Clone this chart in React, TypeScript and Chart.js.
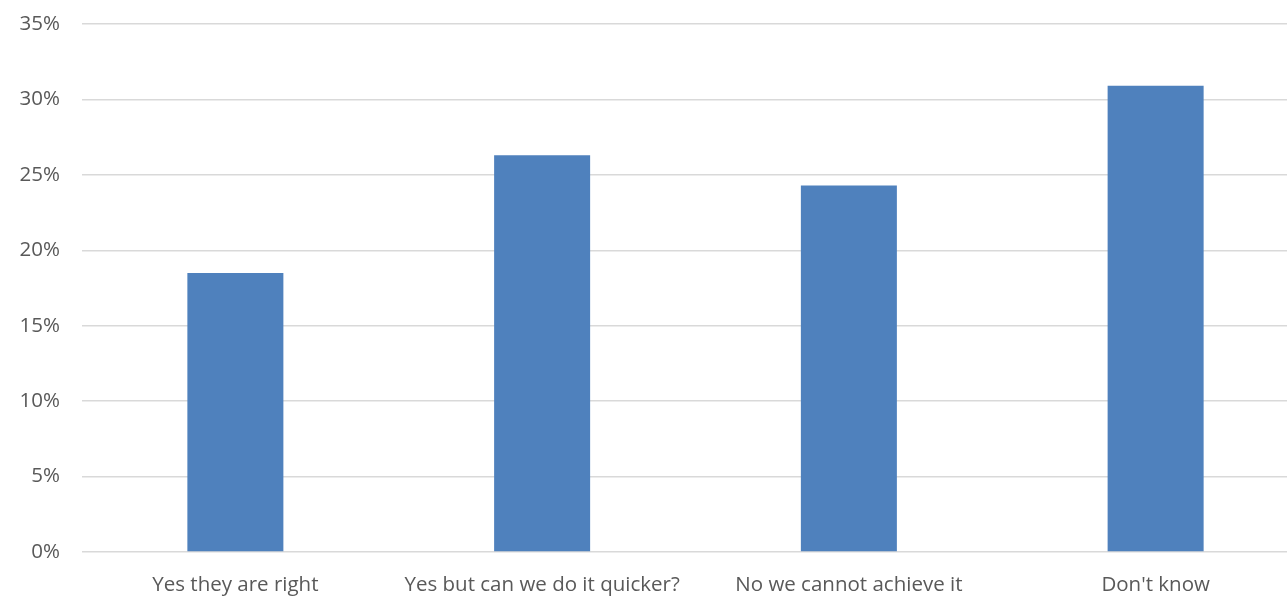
import React, { useEffect, useRef } from "react";
import { Chart, registerables } from "chart.js";

Chart.register(...registerables);

const categories = [
  "Yes they are right",
  "Yes but can we do it quicker?",
  "No we cannot achieve it",
  "Don't know",
];
const values = [18.5, 26.3, 24.3, 30.9];
const yTicks = [0, 5, 10, 15, 20, 25, 30, 35];

export default function App() {
  const ref = useRef<HTMLCanvasElement | null>(null);
  useEffect(() => {
    if (!ref.current) return;
    const font = { family: "'Open Sans', 'Noto Sans', sans-serif", size: 20.5 };
    const chart = new Chart(ref.current, {
      type: "bar",
      data: {
        labels: categories,
        datasets: [
          {
            data: values,
            backgroundColor: "#4f81bd",
            borderWidth: 0,
            barPercentage: 0.313,
            categoryPercentage: 1,
          },
        ],
      },
      options: {
        animation: false,
        responsive: true,
        maintainAspectRatio: false,
        layout: { padding: { top: 24, right: 1, left: 0, bottom: 0 } },
        plugins: { legend: { display: false }, tooltip: { enabled: false } },
        scales: {
          x: {
            grid: { display: false },
            border: { display: false },
            ticks: { color: "#595959", font, padding: 13, maxRotation: 0, autoSkip: false },
            afterFit: (s: any) => {
              s.height = 45;
              s.paddingLeft = 0;
              s.paddingRight = 0;
            },
          },
          y: {
            min: 0,
            max: 35,
            afterBuildTicks: (s: any) => {
              s.ticks = yTicks.map((v) => ({ value: v }));
            },
            grid: { color: "#d9d9d9", lineWidth: 1.5, drawTicks: false },
            border: { display: false },
            ticks: {
              color: "#595959",
              font,
              padding: 22,
              callback: (v: any) => v + "%",
            },
            afterFit: (s: any) => {
              s.width = 82;
              s.paddingTop = 12;
              s.paddingBottom = 12;
            },
          },
        },
      },
    });
    return () => chart.destroy();
  }, []);
  return (
    <div
      style={{
        position: "fixed",
        left: 0,
        top: 0,
        width: 1287,
        height: 597,
        overflow: "hidden",
        background: "#fff",
      }}
    >
      <div style={{ width: 1310, height: 597, position: "relative" }}>
        <canvas ref={ref} />
      </div>
    </div>
  );
}
